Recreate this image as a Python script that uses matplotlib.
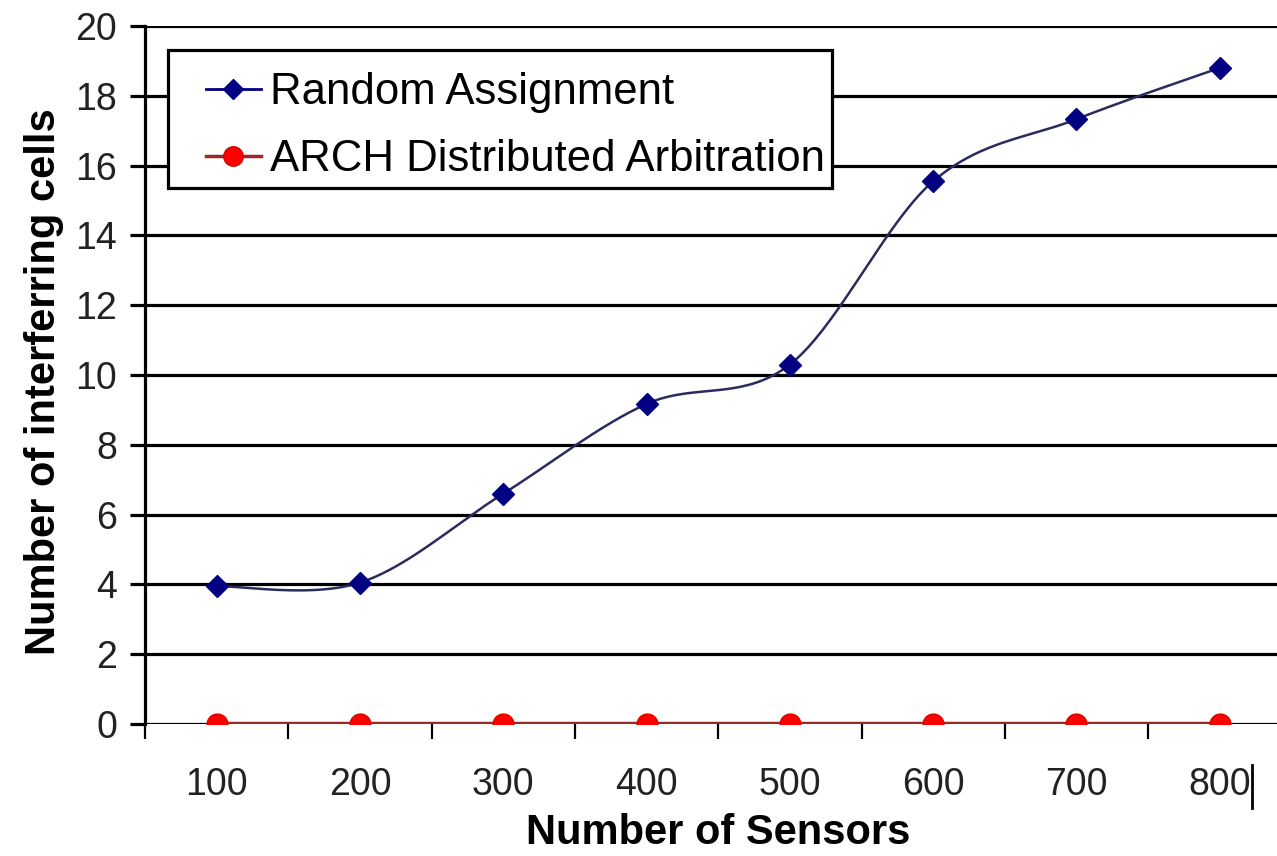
import numpy as np
import matplotlib
matplotlib.use("Agg")
import matplotlib.pyplot as plt
from matplotlib.lines import Line2D
from matplotlib.patches import Rectangle

categories = ["100", "200", "300", "400", "500", "600", "700", "800"]
random_assignment = [3.95, 4.05, 6.6, 9.17, 10.3, 15.55, 17.33, 18.8]
arch_arbitration = [0, 0, 0, 0, 0, 0, 0, 0]
y_ticks = [0, 2, 4, 6, 8, 10, 12, 14, 16, 18, 20]

plt.rcParams['font.family'] = ['Liberation Sans', 'DejaVu Sans']

W, H = 1277, 856
fig = plt.figure(figsize=(W / 100, H / 100), dpi=100)
ax_l, ax_r, ax_b, ax_t = 145, 145 + 8 * 143.3, 724, 26
ax = fig.add_axes([ax_l / W, (H - ax_b) / H, (ax_r - ax_l) / W, (ax_b - ax_t) / H])

x = np.arange(len(categories))


def smooth(xs, ys, sx, sy, n=40):
    # Excel-style smoothed line (Catmull-Rom Bezier) computed in screen-scaled space
    P = np.column_stack([np.asarray(xs, float) * sx, np.asarray(ys, float) * sy])
    out = [P[0]]
    m = len(P)
    for i in range(m - 1):
        p0 = P[i - 1] if i > 0 else P[i]
        p1 = P[i]
        p2 = P[i + 1]
        p3 = P[i + 2] if i + 2 < m else P[i + 1]
        c1 = p1 + (p2 - p0) / 6.0
        c2 = p2 - (p3 - p1) / 6.0
        t = np.linspace(0, 1, n)[1:, None]
        b = ((1 - t) ** 3) * p1 + 3 * ((1 - t) ** 2) * t * c1 + 3 * (1 - t) * t ** 2 * c2 + t ** 3 * p2
        out.extend(b)
    out = np.array(out)
    return out[:, 0] / sx, out[:, 1] / sy


sx = 143.3
sy = (ax_b - ax_t) / 20.0
cx, cy = smooth(x, random_assignment, sx, sy)

for yv in y_ticks:
    ax.axhline(yv, color='black', lw=2.3, zorder=1)

ax.plot(cx, cy, color='#2b2b5e', lw=1.8, zorder=3, solid_capstyle='round')
ax.plot(x, random_assignment, ls='none', marker='D', markersize=11,
        markerfacecolor='#000080', markeredgecolor='#000080', zorder=4)
ax.plot(x, arch_arbitration, color='#9a2a2a', lw=3.2, zorder=3)
ax.plot(x, arch_arbitration, ls='none', marker='o', markersize=15,
        markerfacecolor='#ff0000', markeredgecolor='#e00000', zorder=4)

ax.set_xlim(-0.5, 7.5)
ax.set_ylim(0, 20)
ax.set_yticks(y_ticks)
ax.set_yticklabels([str(v) for v in y_ticks])
ax.set_xticks(x)
ax.set_xticklabels(categories)
ax.set_xticks(np.arange(-0.5, 8.0, 1.0), minor=True)

for s in ['top', 'right', 'bottom']:
    ax.spines[s].set_visible(False)
ax.spines['left'].set_linewidth(2.3)
ax.spines['left'].set_color('black')

ax.tick_params(axis='y', which='major', direction='out', length=11, width=2.3,
               pad=9, labelsize=27, colors='black')
ax.tick_params(axis='x', which='major', length=0, pad=31, labelsize=27)
ax.tick_params(axis='x', which='minor', direction='out', length=11, width=1.6)
for lbl in ax.get_xticklabels() + ax.get_yticklabels():
    lbl.set_color('#222222')

ax.set_xlabel('Number of Sensors', fontsize=30, fontweight='bold')
ax.set_ylabel('Number of interferring cells', fontsize=30, fontweight='bold')
ax.xaxis.set_label_coords(0.5, -0.128)
ax.yaxis.set_label_coords(-0.071, 0.49)

# legend frame (drawn as a plain rectangle)
ax.add_patch(Rectangle((168 / W, 1 - 188 / H), (832 - 168) / W, (188 - 50) / H,
                       transform=fig.transFigure, facecolor='white',
                       edgecolor='black', lw=2.3, zorder=9, clip_on=False))

handles = [
    Line2D([], [], color='#000080', lw=2, marker='D', markersize=10,
           markerfacecolor='#000080', markeredgecolor='#000080'),
    Line2D([], [], color='#9a2a2a', lw=2.5, marker='o', markersize=14,
           markerfacecolor='#ff0000', markeredgecolor='#e00000'),
]
leg = ax.legend(handles, ['Random Assignment', 'ARCH Distributed Arbitration'],
                loc='upper left', bbox_to_anchor=(206 / W, 1 - 72 / H),
                bbox_transform=fig.transFigure, borderaxespad=0,
                fontsize=31.5, frameon=False,
                handlelength=1.25, handletextpad=0.22, borderpad=0.0,
                labelspacing=0.6)
leg.set_zorder(10)

fig.add_artist(Line2D([1252 / W, 1252 / W], [1 - 765 / H, 1 - 808 / H],
                      transform=fig.transFigure, color='black', lw=2))

fig.savefig('out.png', dpi=100)
